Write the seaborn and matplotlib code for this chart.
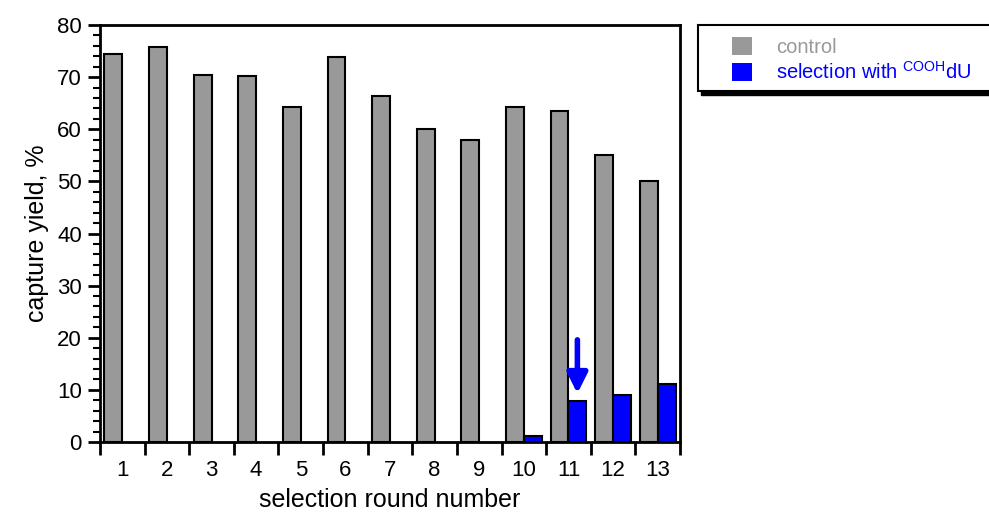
import numpy as np
import pandas as pd
import matplotlib
matplotlib.use("Agg")
import matplotlib.pyplot as plt
from matplotlib.patches import Rectangle
from matplotlib.ticker import FixedLocator, MultipleLocator
import seaborn as sns

# data
rounds = [str(i) for i in range(1, 14)]
control = [74.5, 75.8, 70.5, 70.2, 64.3, 73.8, 66.3, 60.0, 58.0, 64.2, 63.5, 55.0, 50.0]
selection = [None] * 9 + [1.1, 7.9, 9.0, 11.2]
series_names = ["control", r"selection with $^{\mathregular{COOH}}$dU"]
series_colors = ["#999999", "#0000ff"]

df = pd.DataFrame({
    "round": rounds * 2,
    "series": [series_names[0]] * 13 + [series_names[1]] * 13,
    "value": control + selection,
}).dropna()

sns.set_style("ticks")
plt.rcParams["font.family"] = ["Liberation Sans", "DejaVu Sans"]
plt.rcParams["mathtext.default"] = "regular"
for k in ["text.color", "axes.labelcolor", "xtick.color", "ytick.color"]:
    plt.rcParams[k] = "black"

fig = plt.figure(figsize=(9.89, 5.12), dpi=100)
ax = fig.add_axes([100 / 989, 70 / 512, 580 / 989, 417 / 512])

sns.barplot(data=df, x="round", y="value", hue="series", order=rounds,
            hue_order=series_names, palette=series_colors, width=0.8,
            edgecolor="black", linewidth=1.5, saturation=1, ax=ax, legend=True)

ax.set_xlim(-0.5, 12.5)
ax.set_ylim(0, 80)

# x: ticks on group boundaries, labels at centres
ax.xaxis.set_major_locator(FixedLocator(np.arange(-0.5, 13, 1)))
ax.xaxis.set_minor_locator(FixedLocator(np.arange(0, 13, 1)))
ax.set_xticklabels([""] * 14)
ax.set_xticklabels(rounds, minor=True)
ax.tick_params(axis="x", which="major", length=9, width=2, direction="out")
ax.tick_params(axis="x", which="minor", length=0, pad=13, labelsize=16)

ax.yaxis.set_major_locator(MultipleLocator(10))
ax.yaxis.set_minor_locator(MultipleLocator(2))
ax.tick_params(axis="y", which="major", length=9, width=2, labelsize=16, pad=4)
ax.tick_params(axis="y", which="minor", length=5, width=1.5)

for sp in ax.spines.values():
    sp.set_visible(True)
    sp.set_linewidth(2)
    sp.set_color("black")

ax.set_xlabel("selection round number", fontsize=18, labelpad=5)
ax.set_ylabel("capture yield, %", fontsize=18, labelpad=6)

# arrow pointing at round 11 selection bar
ax.annotate("", xy=(10.2, selection[10] + 1.4), xytext=(10.2, 19.6),
            arrowprops=dict(arrowstyle="-|>", color="#0000ff", lw=4,
                            mutation_scale=30, shrinkA=0, shrinkB=0))

# legend outside on the right with a hard black shadow
handles, labels = ax.get_legend_handles_labels()
ax.get_legend().remove()
fig.add_artist(Rectangle((701 / 989, (512 - 95) / 512), 0.4, 66 / 512,
                         transform=fig.transFigure, facecolor="black",
                         edgecolor="black", zorder=1))
fig.add_artist(Rectangle((698 / 989, (512 - 91) / 512), 0.4, 66 / 512,
                         transform=fig.transFigure, facecolor="white",
                         edgecolor="black", lw=1.5, zorder=2))
leg = fig.legend(handles, labels, loc="upper left",
                 bbox_to_anchor=(722 / 989, 1 - 27 / 512), frameon=False,
                 fontsize=14.5, handlelength=1.0, handleheight=1.0,
                 handletextpad=1.2, labelspacing=0.2, borderpad=0)
leg.set_zorder(3)
for t, c in zip(leg.get_texts(), series_colors):
    t.set_color(c)
for h in leg.legend_handles:
    h.set_edgecolor("none")

fig.savefig("out.png", dpi=100)
